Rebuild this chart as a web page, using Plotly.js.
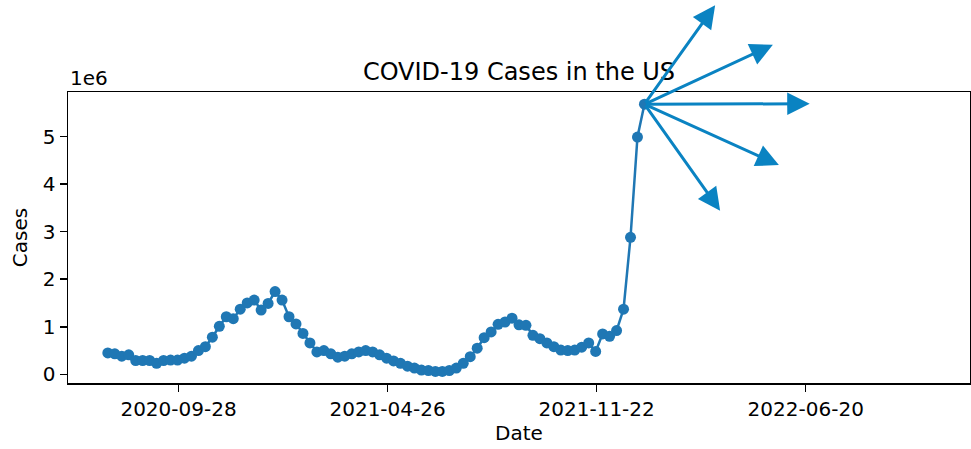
<!DOCTYPE html>
<html>
<head>
<meta charset="utf-8">
<script src="https://cdn.plot.ly/plotly-3.0.1.min.js"></script>
<style>
  html, body { margin: 0; padding: 0; background: #fff; }
  #chart { width: 971px; height: 449px; }
</style>
</head>
<body>
<div id="chart"></div>
<script>
// Weekly dates (x categories)
const dates = [
  "2020-07-19","2020-07-26","2020-08-02","2020-08-09","2020-08-16","2020-08-23","2020-08-30",
  "2020-09-06","2020-09-13","2020-09-20","2020-09-27","2020-10-04","2020-10-11","2020-10-18",
  "2020-10-25","2020-11-01","2020-11-08","2020-11-15","2020-11-22","2020-11-29","2020-12-06",
  "2020-12-13","2020-12-20","2020-12-27",
  "2021-01-03","2021-01-10","2021-01-17","2021-01-24","2021-01-31","2021-02-07","2021-02-14",
  "2021-02-21","2021-02-28","2021-03-07","2021-03-14","2021-03-21","2021-03-28","2021-04-04",
  "2021-04-11","2021-04-18","2021-04-25","2021-05-02","2021-05-09","2021-05-16","2021-05-23",
  "2021-05-30","2021-06-06","2021-06-13","2021-06-20","2021-06-27","2021-07-04","2021-07-11",
  "2021-07-18","2021-07-25","2021-08-01","2021-08-08","2021-08-15","2021-08-22","2021-08-29",
  "2021-09-05","2021-09-12","2021-09-19","2021-09-26","2021-10-03","2021-10-10","2021-10-17",
  "2021-10-24","2021-10-31","2021-11-07","2021-11-14","2021-11-21","2021-11-28","2021-12-05",
  "2021-12-12","2021-12-19","2021-12-26",
  "2022-01-02","2022-01-09"
];

// Weekly cases
const cases = [
  450000, 430000, 380000, 410000, 290000, 290000, 290000, 230000, 290000, 300000,
  300000, 340000, 380000, 500000, 580000, 780000, 1010000, 1210000, 1170000, 1370000,
  1500000, 1560000, 1350000, 1490000, 1740000, 1560000, 1210000, 1060000, 860000, 660000,
  470000, 500000, 430000, 360000, 380000, 430000, 470000, 500000, 470000, 410000,
  340000, 280000, 230000, 170000, 130000, 90000, 80000, 60000, 60000, 80000,
  130000, 230000, 370000, 550000, 770000, 890000, 1050000, 1100000, 1180000, 1040000,
  1030000, 820000, 750000, 660000, 580000, 510000, 500000, 510000, 570000, 660000,
  480000, 850000, 800000, 920000, 1370000, 2880000, 4990000, 5680000
];

// Arrow tips (data coordinates), arrows start at the last point
const arrowTipDates = ["2022-03-21", "2022-05-18", "2022-06-24", "2022-05-24", "2022-03-26"];
const arrowTipValues = [7760000, 6930000, 5690000, 4400000, 3440000];

// Axis ticks
const xTickVals = ["2020-09-28", "2021-04-26", "2021-11-22", "2022-06-20"];
const xTickText = ["2020-09-28", "2021-04-26", "2021-11-22", "2022-06-20"];
const yTickVals = [0, 1000000, 2000000, 3000000, 4000000, 5000000];
const yTickText = ["0", "1", "2", "3", "4", "5"];

const FONT = "DejaVu Sans, sans-serif";
const lastDate = dates[dates.length - 1];
const lastVal = cases[cases.length - 1];

const trace = {
  x: dates,
  y: cases,
  type: "scatter",
  mode: "lines+markers",
  line: { color: "#1f77b4", width: 2.5 },
  marker: { color: "#1f77b4", size: 11 },
  hoverinfo: "x+y"
};

const annotations = arrowTipDates.map((d, i) => ({
  x: d, y: arrowTipValues[i], xref: "x", yref: "y",
  ax: lastDate, ay: lastVal, axref: "x", ayref: "y",
  text: "", showarrow: true,
  arrowhead: 2, arrowsize: 1.5, arrowwidth: 3, arrowcolor: "#0a83c2",
  standoff: 0, startstandoff: 0
}));

annotations.push({
  text: "1e6", xref: "paper", yref: "paper", x: 0, y: 1,
  xanchor: "left", yanchor: "bottom", showarrow: false,
  font: { family: FONT, size: 20, color: "#000" }, yshift: 0
});

const layout = {
  width: 971, height: 449,
  margin: { l: 68, r: 1, t: 92, b: 66 },
  paper_bgcolor: "#fff", plot_bgcolor: "#fff",
  showlegend: false,
  font: { family: FONT, size: 20, color: "#000" },
  title: {
    text: "COVID-19 Cases in the US",
    font: { family: FONT, size: 24, color: "#000" },
    x: 0.5, xref: "paper", xanchor: "center",
    y: 1 - 72 / 449, yref: "container", yanchor: "middle"
  },
  xaxis: {
    type: "date",
    range: ["2020-06-09", "2022-12-02"],
    tickvals: xTickVals, ticktext: xTickText,
    ticks: "outside", ticklen: 7, tickwidth: 1.5, tickcolor: "#000",
    showline: true, linecolor: "#000", linewidth: 1.5, mirror: true,
    showgrid: false, zeroline: false,
    tickfont: { family: FONT, size: 20, color: "#000" },
    title: { text: "Date", font: { family: FONT, size: 20, color: "#000" }, standoff: 6 }
  },
  yaxis: {
    range: [-183000, 5937000],
    tickvals: yTickVals, ticktext: yTickText,
    ticks: "outside", ticklen: 7, tickwidth: 1.5, tickcolor: "#000",
    showline: true, linecolor: "#000", linewidth: 1.5, mirror: true,
    showgrid: false, zeroline: false,
    tickfont: { family: FONT, size: 20, color: "#000" },
    title: { text: "Cases", font: { family: FONT, size: 20, color: "#000" }, standoff: 10 }
  },
  annotations: annotations
};

Plotly.newPlot("chart", [trace], layout, { displayModeBar: false, staticPlot: true });
</script>
</body>
</html>
